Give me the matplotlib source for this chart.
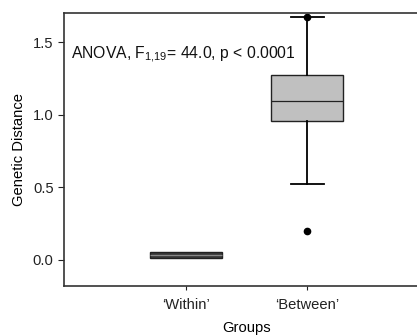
import matplotlib as mpl

mpl.use('agg')
import matplotlib.pyplot as plt

plt.rcParams['font.family'] = ['Liberation Sans', 'DejaVu Sans']
plt.rcParams['mathtext.fontset'] = 'custom'
plt.rcParams['mathtext.rm'] = 'Liberation Sans'
plt.rcParams['mathtext.it'] = 'Liberation Sans'

# box statistics
groups = ["\u2018Within\u2019", "\u2018Between\u2019"]
q1 = [0.014, 0.957]
median = [0.030, 1.093]
q3 = [0.055, 1.273]
whisker_low = [0.014, 0.52]
whisker_high = [0.055, 1.67]
outliers = [[], [0.20, 1.67]]
box_colors = ['#3a3a3a', '#c0c0c0']

stats = []
for i, name in enumerate(groups):
  stats.append(dict(label=name, q1=q1[i], med=median[i], q3=q3[i],
                    whislo=whisker_low[i], whishi=whisker_high[i], fliers=outliers[i]))

fig = plt.figure(figsize=(4.17, 3.36), dpi=100)
ax = fig.add_axes([0.1535, 0.1497, 0.875, 0.8115])

bp = ax.bxp(stats, positions=[1, 2], widths=0.59, patch_artist=True,
            showcaps=True, capwidths=0.27,
            boxprops=dict(edgecolor='#222222', linewidth=1.0),
            medianprops=dict(color='#222222', linewidth=0.9),
            whiskerprops=dict(color='black', linewidth=1.3),
            capprops=dict(color='black', linewidth=1.3),
            flierprops=dict(marker='o', markerfacecolor='black', markeredgecolor='black',
                            markersize=4.5))
for patch, c in zip(bp['boxes'], box_colors):
  patch.set_facecolor(c)
bp['medians'][0].set_color('#888888')
for i in (0, 1):
  bp['caps'][i].set_visible(False)
  bp['whiskers'][i].set_visible(False)

ax.set_xlim(0, 3)
ax.set_ylim(-0.18, 1.70)
ax.set_yticks([0.0, 0.5, 1.0, 1.5])
ax.set_yticklabels(['0.0', '0.5', '1.0', '1.5'])
ax.set_xticks([1, 2])
ax.set_xticklabels(groups)
ax.tick_params(axis='both', labelsize=10.6, colors='#222222', length=4, width=0.8)
ax.tick_params(axis='x', length=3, pad=6)
ax.spines['right'].set_visible(False)
for s in ('left', 'bottom', 'top'):
  ax.spines[s].set_color('#333333')
  ax.spines[s].set_linewidth(1.2)

ax.set_xlabel('Groups', fontsize=10.6, labelpad=6)
ax.set_ylabel('Genetic Distance', fontsize=10.6, labelpad=5)

ax.text(0.06, 1.415, r'ANOVA, F$_{1{,}19}$= 44.0, p < 0.0001', fontsize=11.3,
        va='center', ha='left', color='#111111')

fig.savefig('out.png', dpi=100)
